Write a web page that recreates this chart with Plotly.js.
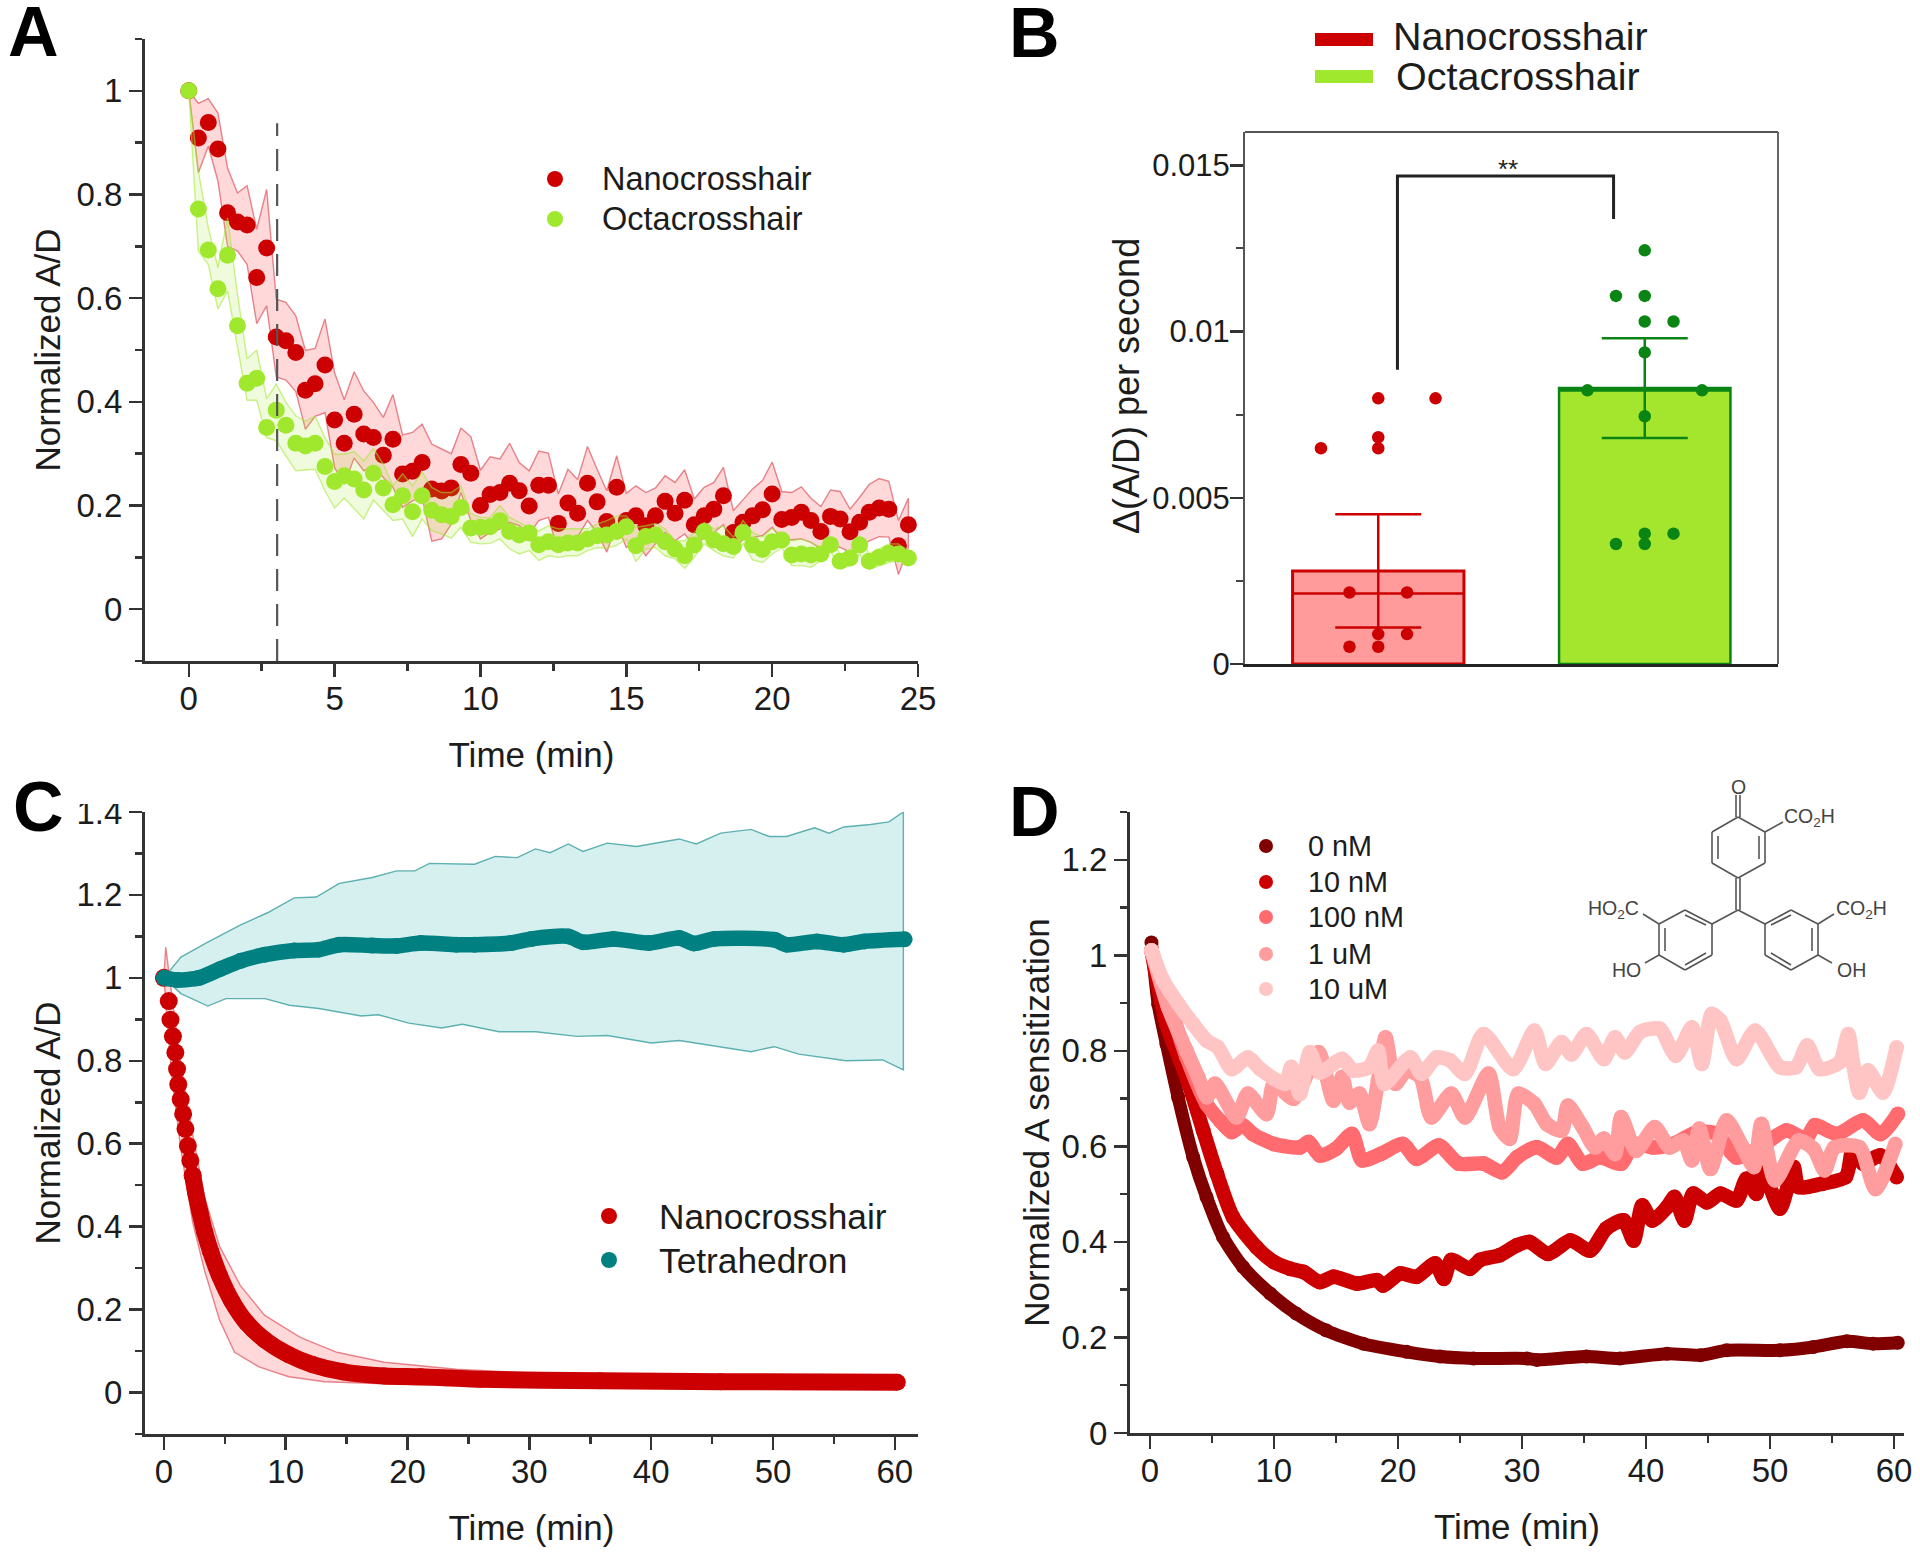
<!DOCTYPE html>
<html>
<head>
<meta charset="utf-8">
<script src="https://cdn.plot.ly/plotly-3.0.1.min.js"></script>
<style>html,body{margin:0;padding:0;background:#fff}</style>
</head>
<body>
<div id="plot" style="width:1920px;height:1556px"></div>
<script>
// panel A
const tA=[0,0.33,0.67,1,1.33,1.67,2,2.33,2.67,3,3.33,3.67,4,4.33,4.67,5,5.33,5.67,6,6.33,6.67,7,7.33,7.67,8,8.33,8.67,9,9.33,9.67,10,10.33,10.67,11,11.33,11.67,12,12.33,12.67,13,13.33,13.67,14,14.33,14.67,15,15.33,15.67,16,16.33,16.67,17,17.33,17.67,18,18.33,18.67,19,19.33,19.67,20,20.33,20.67,21,21.33,21.67,22,22.33,22.67,23,23.33,23.67,24,24.33,24.67];
const nanoA=[1,.909,.939,.888,.765,.747,.741,.640,.697,.525,.518,.495,.4225,.435,.471,.365,.320,.376,.338,.331,.297,.328,.261,.266,.283,.232,.228,.234,.279,.262,.2,.221,.225,.243,.2285,.199,.239,.239,.1655,.205,.185,.243,.207,.169,.235,.171,.18,.161,.18,.208,.185,.21,.163,.18,.193,.219,.148,.1675,.18,.192,.222,.173,.177,.187,.171,.15,.179,.174,.1495,.1675,.187,.195,.193,.1225,.163];
const nanoAUp=[1,.976,.985,.957,.851,.803,.817,.733,.81,.598,.592,.566,.499,.503,.56,.456,.404,.458,.421,.399,.37,.414,.336,.341,.357,.3185,.309,.3,.349,.333,.268,.294,.29,.32,.283,.267,.305,.301,.222,.27,.25,.314,.27,.2285,.296,.2235,.238,.225,.234,.2575,.2445,.269,.2125,.235,.2445,.2735,.19,.211,.232,.248,.284,.227,.225,.236,.214,.198,.23,.227,.193,.216,.241,.252,.2465,.171,.214];
const nanoALo=[1,.842,.893,.826,.7,.691,.665,.551,.585,.448,.442,.42,.347,.372,.379,.273,.241,.2915,.267,.277,.254,.235,.196,.209,.216,.131,.1355,.164,.225,.171,.1355,.148,.1545,.1675,.161,.145,.171,.177,.11,.132,.1395,.171,.148,.11,.165,.119,.132,.103,.126,.148,.132,.145,.1225,.138,.148,.163,.115,.135,.138,.142,.158,.134,.134,.1355,.129,.116,.126,.119,.11,.119,.132,.14,.139,.067,.119];
const octaA=[1,.772,.693,.618,.683,.547,.436,.4455,.3505,.384,.355,.32,.315,.32,.2754,.2465,.2574,.251,.23,.262,.2336,.2015,.219,.188,.219,.191,.182,.179,.196,.1566,.158,.159,.1707,.15,.143,.147,.1245,.13,.1245,.1277,.1277,.1354,.1418,.143,.15,.159,.1225,.14,.143,.13,.116,.103,.124,.15,.1335,.126,.121,.148,.124,.115,.13,.1335,.1046,.1065,.1046,.1065,.1245,.0923,.0988,.124,.0923,.1,.1077,.1065,.0988];
const octaAUp=[1,.845,.736,.659,.755,.608,.483,.5,.406,.434,.399,.373,.363,.372,.331,.299,.299,.304,.286,.31,.28,.238,.261,.238,.264,.235,.225,.225,.238,.184,.177,.177,.2,.177,.1675,.158,.151,.161,.155,.155,.155,.155,.164,.171,.18,.18,.158,.161,.1655,.155,.132,.132,.148,.1675,.155,.161,.139,.171,.148,.139,.155,.145,.132,.1355,.129,.119,.139,.106,.113,.142,.106,.116,.126,.126,.113];
const octaALo=[1,.691,.665,.579,.614,.505,.403,.403,.331,.325,.296,.267,.268,.27,.2285,.195,.2145,.193,.174,.2105,.19,.171,.174,.14,.174,.1515,.145,.137,.158,.129,.126,.127,.1355,.116,.1065,.113,.094,.103,.1,.103,.103,.113,.119,.118,.123,.1355,.092,.116,.119,.103,.097,.079,.1,.126,.113,.103,.099,.126,.095,.09,.106,.119,.084,.084,.081,.094,.112,.079,.084,.106,.077,.084,.09,.094,.087];
const markerLineA=[3.03,3.03], markerLineAY=[-0.1,.9376];

// panel B
const barNames=["Nanocrosshair","Octacrosshair"];
const barMeans=[.0028,.0083];
const barUpper=[.0017,.0015];
const barLower=[.0017,.0015];
const barMid=[.00212,.00825];
const nanoBx=[-.215,0,0,0,.215,-.108,.108,-.108,0,0,.108];
const nanoBy=[.00649,.00799,.00682,.00649,.00799,.00215,.00215,.00052,.00052,.0009,.0009];
const octaBx=[0,-.108,0,0,.108,0,-.215,.215,0,0,.108,-.108,0];
const octaBy=[.01244,.01107,.01107,.0103,.0103,.00937,.00823,.00823,.00745,.00392,.00392,.00361,.00361];
const bracketX=[.072,.072,.883,.883];
const bracketY=[.00885,.01468,.01468,.01338];

// panel C
const tetraTx=[0,1.1,2.9,4.6,6.3,8.3,10.7,12.7,14.4,17.1,19.1,21.1,24,25.5,28.5,30.2,33.2,34.4,36.9,39.8,42.3,43.5,45.2,50.1,51.1,53.6,55.8,57.5,60.8];
const tetraC=[1,.995,1,1.021,1.041,1.056,1.066,1.068,1.08,1.078,1.077,1.084,1.08,1.08,1.084,1.094,1.1,1.086,1.094,1.084,1.096,1.083,1.094,1.092,1.08,1.088,1.08,1.088,1.093];
const tetraUpT=[0,1.4,3.6,6.3,8.5,10.7,12.5,14.4,17.1,19.1,20.6,21.8,25.5,27.2,29,30.5,31.7,33.2,34.4,36.4,38.8,42.3,43.7,45.7,48.2,49.7,51.1,53.4,54.6,55.8,58,59.5,60.7];
const tetraUp=[1,1.05,1.086,1.128,1.157,1.193,1.195,1.228,1.242,1.258,1.258,1.276,1.274,1.293,1.29,1.311,1.302,1.323,1.305,1.325,1.317,1.335,1.323,1.349,1.358,1.341,1.341,1.362,1.349,1.364,1.37,1.376,1.4];
const tetraLoT=[0,1.4,3.6,5.1,8.3,10.3,12.7,16.2,17.6,20.1,22.8,24.5,27.5,30.5,33.9,36.4,40,42.3,44.7,48.2,50.1,52.1,56,59,60.7];
const tetraLo=[1,.962,.932,.95,.95,.934,.926,.908,.911,.891,.879,.888,.87,.87,.859,.861,.843,.849,.837,.822,.834,.816,.8,.802,.778];
const nanoCt=[0,.4,.54,.74,.94,1.08,1.18,1.38,1.58,1.77,1.97,2.17,2.36,2.61,2.96,3.35,3.84,4.58,5.57,6.8,8.28,10.25,12.2,14.7,18.1,21.1,26,35.8,45.7,60.2];
const nanoC=[1,.944,.899,.859,.82,.78,.743,.707,.672,.636,.595,.559,.524,.482,.435,.387,.34,.281,.221,.168,.127,.091,.0675,.05,.04,.038,.032,.0284,.026,.025];
const nanoCUpT=[0,.15,1.38,2.36,3.35,4.58,6.3,8.28,11.2,14.2,18.1,24,30.9,40.7,60.2];
const nanoCUp=[1,1.074,.79,.624,.47,.352,.257,.186,.133,.097,.073,.056,.046,.041,.035];
const nanoCLoT=[0,.64,1.38,2.36,3.35,4.58,5.8,7.8,10.25,13.2,21.1,30.9,60.2];
const nanoCLo=[1,.766,.589,.411,.293,.174,.097,.062,.038,.026,.018,.014,.014];

// panel D
const d0t=[.13,.67,1.34,2.28,3.5,4.57,5.9,7.5,9.7,11.8,14.2,17.2,20.7,23.4,26.1,30.4,31.2,35.2,37.9,41.7,44.4,46.5,50.8,53.5,56.2,58.3,60.3];
const d0=[1.027,.898,.814,.703,.577,.494,.41,.348,.292,.25,.215,.187,.17,.16,.156,.156,.153,.16,.156,.166,.163,.173,.173,.18,.192,.187,.189];
const d10nt=[.13,1.34,2.96,4.3,5.4,6.7,8.6,10,11.3,12.4,13.7,14.8,16.7,18.3,18.8,20.2,21.5,23,23.7,24.3,25.8,26.6,28.2,29.6,30.6,32.1,33.9,35.5,36.8,38.2,39,39.7,40.5,41.7,42.3,43.1,43.8,44.9,46,47.3,48.1,48.9,49.3,50.8,51.9,52.3,54.2,56.1,56.7,57.5,58.9,60.2];
const d10n=[1.01,.856,.745,.633,.543,.452,.389,.358,.344,.337,.316,.327,.313,.32,.309,.334,.327,.355,.323,.362,.344,.362,.372,.393,.4,.375,.403,.382,.428,.445,.403,.476,.445,.473,.494,.445,.501,.483,.501,.487,.532,.501,.557,.47,.557,.515,.522,.536,.598,.564,.581,.536];
const d100nt=[.13,1.48,2.96,4.57,5.65,6.6,7.5,8.3,10,12.1,12.8,13.7,15,16.3,17.1,18.6,20.4,21.5,23.3,24.9,26.9,28.4,29.6,31.2,32.8,33.7,34.9,36.3,38,39,40.6,42.2,44.1,45.7,47.3,49.2,51.3,52.9,53.6,55.4,57.5,58.9,60.3];
const d100n=[1.01,.905,.787,.689,.654,.63,.644,.626,.605,.598,.609,.581,.595,.626,.571,.584,.605,.574,.602,.564,.564,.546,.577,.598,.577,.605,.564,.577,.564,.605,.598,.605,.63,.626,.577,.598,.633,.616,.644,.626,.654,.626,.668];
const d1ut=[.13,1.48,2.96,3.9,4.6,5.25,7,7.9,9.4,10,11.6,13.6,14.8,15.5,16.1,16.9,17.7,18.4,19,19.8,20.7,21.8,22.7,24.3,25.4,27.3,28.2,29,29.7,31,32,33.2,33.7,34.9,35.9,36.6,37.5,38,39.2,40.7,41.9,43,43.7,44.3,45.2,46.5,47.8,48.7,49.3,50.4,52.3,53.5,54.4,55.2,57.2,58.5,60.1];
const d1u=[1.01,.891,.8,.745,.703,.731,.661,.71,.668,.731,.7,.797,.696,.745,.692,.71,.647,.738,.828,.731,.759,.745,.661,.71,.661,.752,.64,.616,.71,.689,.647,.633,.685,.64,.598,.616,.584,.661,.591,.64,.598,.612,.571,.637,.553,.654,.598,.557,.647,.529,.612,.595,.55,.598,.598,.511,.605];
const d10ut=[.13,1.08,2.3,3.5,4.6,5.5,6.6,7.9,8.9,10.9,11.4,12.1,12.9,13.7,15.5,16.4,17.7,18.4,18.9,21,21.9,23.1,24.2,25.4,26.9,29.3,31,31.9,33.2,34,35.2,36.6,37.5,38.3,39.5,41.1,42.4,43.7,44.5,45.3,46,47.3,48.8,50.8,52.1,53,54,55.6,56.3,56.7,57.2,57.9,59.1,60.2];
const d10u=[1.01,.947,.898,.856,.821,.807,.762,.786,.762,.731,.766,.71,.797,.755,.783,.759,.766,.8,.731,.786,.752,.786,.78,.752,.835,.762,.842,.773,.818,.793,.835,.783,.828,.797,.839,.846,.79,.849,.773,.877,.863,.783,.842,.766,.766,.811,.762,.776,.835,.773,.713,.759,.713,.807];
const doseNames=["0 nM","10 nM","100 nM","1 uM","10 uM"];
const doseColors=["#800000","#cc0000","#ff6b6e","#ff9c9e","#ffc5c5"];

const RED="#cc0000", LIME="#a0e82d", TEAL="#008080", DARKGREEN="#0a8514";
const FONT="Liberation Sans", INK="#1c1c1c";
const W=1920, H=1556;

function dx(a,b){return [a/W,b/W]}
function dy(top,bot){return [1-bot/H,1-top/H]}
function axis(opts){
  return Object.assign({showgrid:false,zeroline:false,showline:true,linecolor:"#333",linewidth:3,
    ticks:"outside",ticklen:13,tickwidth:2.5,tickcolor:"#333",
    tickfont:{family:FONT,size:33,color:INK}},opts);
}
function title(text,standoff,size){
  return {text:text,standoff:standoff,font:{family:FONT,size:size||35,color:INK}};
}
function band(x,up,xLo,lo,fill,line,xa,ya){
  return {x:x.concat(xLo.slice().reverse()),y:up.concat(lo.slice().reverse()),mode:"lines",fill:"toself",
    fillcolor:fill,line:{color:line,width:1.4},hoverinfo:"skip",xaxis:xa,yaxis:ya,showlegend:false};
}
function dots(x,y,color,size,xa,ya,lw){
  return {x:x,y:y,mode:lw?"lines+markers":"markers",marker:{color:color,size:size},
    line:lw?{color:color,width:lw,shape:"spline",smoothing:.7}:undefined,xaxis:xa,yaxis:ya,showlegend:false,cliponaxis:false};
}

let traces=[
  band(tA,nanoAUp,tA,nanoALo,"rgba(255,60,70,0.2)","rgba(215,60,70,0.6)","x","y"),
  dots(tA,nanoA,RED,17,"x","y"),
  band(tA,octaAUp,tA,octaALo,"rgba(160,232,45,0.16)","rgba(160,232,45,0.55)","x","y"),
  dots(tA,octaA,LIME,17,"x","y"),

  {x:[0],y:[barMeans[0]],type:"bar",width:.643,marker:{color:"#ff9b9b",line:{color:RED,width:3}},
    error_y:{type:"data",array:[barUpper[0]],arrayminus:[barLower[0]],color:RED,thickness:2.5,width:43},
    xaxis:"x2",yaxis:"y2",showlegend:false,name:barNames[0]},
  {x:[1],y:[barMeans[1]],type:"bar",width:.643,marker:{color:"#a4e62d",line:{color:DARKGREEN,width:2.5}},
    error_y:{type:"data",array:[barUpper[1]],arrayminus:[barLower[1]],color:DARKGREEN,thickness:2.5,width:43},
    xaxis:"x2",yaxis:"y2",showlegend:false,name:barNames[1]},
  {x:[-.32,.32],y:[barMid[0],barMid[0]],mode:"lines",line:{color:RED,width:2.5},xaxis:"x2",yaxis:"y2",showlegend:false},
  {x:[.68,1.32],y:[barMid[1],barMid[1]],mode:"lines",line:{color:DARKGREEN,width:4},xaxis:"x2",yaxis:"y2",showlegend:false},
  dots(nanoBx,nanoBy,RED,12.5,"x2","y2"),
  dots(octaBx.map(v=>v+1),octaBy,DARKGREEN,12.5,"x2","y2"),
  {x:bracketX,y:bracketY,mode:"lines",line:{color:"#222",width:3},xaxis:"x2",yaxis:"y2",showlegend:false},

  band(tetraUpT,tetraUp,tetraLoT,tetraLo,"rgba(0,160,160,0.16)","rgba(0,128,128,0.6)","x3","y3"),
  band(nanoCUpT,nanoCUp,nanoCLoT,nanoCLo,"rgba(255,60,70,0.2)","rgba(215,60,70,0.6)","x3","y3"),
  // first drops are separate dots in the picture, after that they merge
  dots(nanoCt.slice(0,13),nanoC.slice(0,13),RED,18,"x3","y3"),
  dots(nanoCt.slice(12),nanoC.slice(12),RED,17,"x3","y3",17),
  dots(tetraTx,tetraC,TEAL,16,"x3","y3",15.5),

  dots(d0t,d0,doseColors[0],14,"x4","y4",13),
  dots(d10nt,d10n,doseColors[1],15,"x4","y4",14.5),
  dots(d100nt,d100n,doseColors[2],15,"x4","y4",14.5),
  dots(d1ut,d1u,doseColors[3],15,"x4","y4",14.5),
  dots(d10ut,d10u,doseColors[4],15,"x4","y4",14.5)
];

// everything hand placed below is in picture pixels
function lab(text,x,y,size,opt){
  return Object.assign({text:text,xref:"paper",yref:"paper",x:x/W,y:1-y/H,showarrow:false,xanchor:"left",yanchor:"middle",
    font:{family:FONT,size:size,color:INK}},opt||{});
}
function keyDot(x,y,r,color){
  return {type:"circle",xref:"paper",yref:"paper",xsizemode:"pixel",ysizemode:"pixel",xanchor:x/W,yanchor:1-y/H,
    x0:-r,x1:r,y0:-r,y1:r,fillcolor:color,line:{width:0}};
}
function seg(a,b,c,d,w){
  return {type:"line",xref:"paper",yref:"paper",x0:a/W,x1:c/W,y0:1-b/H,y1:1-d/H,line:{color:"#555",width:w||1.6}};
}
const molFont={family:FONT,size:19.5,color:"#444"};
const panelFont={family:FONT,size:70,color:"#000",weight:700};

let annotations=[
  lab("A",33,32,70,{xanchor:"center",font:panelFont}),
  lab("B",1034,33,70,{xanchor:"center",font:panelFont}),
  lab("C",38,807,70,{xanchor:"center",font:panelFont}),
  lab("D",1034,812,70,{xanchor:"center",font:panelFont}),
  lab(barNames[0],600,179,32.5),
  lab(barNames[1],600,219,32.5),
  lab(barNames[0],1391,36,39.5),
  lab(barNames[1],1394,76,39.5),
  lab("Nanocrosshair",657,1216,35.3),
  lab("Tetrahedron",657,1260,35.3),
  lab("Δ(A/D) per second",1127,386,36,{xanchor:"center",textangle:-90}),
  {text:"**",xref:"x2",yref:"y2",x:.485,y:.0149,showarrow:false,font:{family:FONT,size:26,color:"#222"}},
  lab("O",1738,787,19.5,{xanchor:"center",font:molFont}),
  lab("CO<sub>2</sub>H",1782,817,19.5,{font:molFont}),
  lab("HO<sub>2</sub>C",1586,910,19.5,{font:molFont}),
  lab("CO<sub>2</sub>H",1834,910,19.5,{font:molFont}),
  lab("HO",1610,970,19.5,{font:molFont}),
  lab("OH",1835,970,19.5,{font:molFont})
];
doseNames.forEach((n,i)=>annotations.push(lab(n,1306,[846,882,917,954,989][i],28.8)));

let shapes=[
  {type:"line",xref:"x",yref:"y",x0:markerLineA[0],x1:markerLineA[1],y0:markerLineAY[0],y1:markerLineAY[1],
    line:{color:"#555",width:2.2,dash:"22px,13px"}},
  keyDot(555,179,8,RED),keyDot(555,219,8,LIME),
  keyDot(609,1216,8,RED),keyDot(609,1260,8,TEAL),
  {type:"rect",xref:"paper",yref:"paper",x0:1315/W,x1:1373/W,y0:1-46/H,y1:1-33/H,fillcolor:RED,line:{width:0}},
  {type:"rect",xref:"paper",yref:"paper",x0:1315/W,x1:1373/W,y0:1-83/H,y1:1-70/H,fillcolor:LIME,line:{width:0}},
  {type:"rect",xref:"paper",yref:"paper",x0:70/W,x1:132/W,y0:1-804/H,y1:1-770/H,fillcolor:"#fff",line:{width:0},layer:"above"}
];
doseColors.forEach((c,i)=>shapes.push(keyDot(1266,[846,882,917,954,989][i],7,c)));

// phthalein structure in the corner of D
const ringTop=[[1738,817],[1765,832],[1765,863],[1738,878],[1712,863],[1712,832]];
const ringLeft=[[1712,924],[1685,910],[1659,924],[1659,955],[1685,970],[1712,955]];
const ringRight=[[1765,924],[1791,910],[1818,924],[1818,955],[1791,970],[1765,955]];
[ringTop,ringLeft,ringRight].forEach(r=>{
  r.forEach((p,i)=>{let q=r[(i+1)%6];shapes.push(seg(p[0],p[1],q[0],q[1]));});
});
shapes.push(
  seg(1736,795,1736,817),seg(1740,795,1740,817),
  seg(1765,832,1783,822),
  seg(1759,836,1759,859),seg(1718,836,1718,859),
  seg(1736,878,1736,910),seg(1740,878,1740,910),
  seg(1738,910,1712,924),seg(1738,910,1765,924),
  seg(1659,924,1643,914),seg(1818,924,1834,914),
  seg(1659,955,1645,963),seg(1818,955,1832,963),
  seg(1706,925,1685,915),seg(1665,928,1665,951),seg(1685,965,1706,953),
  seg(1771,925,1791,915),seg(1812,928,1812,951),seg(1791,965,1771,953)
);

let layout={
  width:W,height:H,autosize:false,showlegend:false,
  margin:{l:0,r:0,t:0,b:0,pad:0},
  paper_bgcolor:"#fff",plot_bgcolor:"rgba(0,0,0,0)",
  bargap:0,
  xaxis:axis({domain:dx(145,918),range:[-1.5,25],anchor:"y",tickvals:[0,5,10,15,20,25],ticklabelstandoff:-7,
    minor:{dtick:2.5,ticks:"outside",ticklen:7,tickwidth:2.5,tickcolor:"#333"},title:title("Time (min)",27)}),
  yaxis:axis({domain:dy(39,661),range:[-.1,1.1],anchor:"x",tickvals:[0,.2,.4,.6,.8,1],ticktext:["0","0.2","0.4","0.6","0.8","1"],
    minor:{dtick:.1,tick0:-.1,ticks:"outside",ticklen:7,tickwidth:2.5,tickcolor:"#333"},title:title("Normalized A/D",6)}),

  xaxis2:{domain:dx(1245,1778),range:[-.5,1.5],anchor:"y2",showgrid:false,zeroline:false,showticklabels:false,ticks:"",
    showline:true,linecolor:"#222",linewidth:3,mirror:false},
  yaxis2:axis({domain:dy(132,664),range:[0,.016],anchor:"x2",tickvals:[0,.005,.01,.015],ticktext:["0","0.005","0.01","0.015"],
    linewidth:2,linecolor:"#555",ticklabelstandoff:-6,tickfont:{family:FONT,size:31,color:INK},
    minor:{dtick:.0025,ticks:"outside",ticklen:7,tickwidth:2,tickcolor:"#444"}}),

  xaxis3:axis({domain:dx(145,918),range:[-1.55,61.9],anchor:"y3",tickvals:[0,10,20,30,40,50,60],ticklabelstandoff:-7,
    minor:{dtick:5,ticks:"outside",ticklen:7,tickwidth:2.5,tickcolor:"#333"},title:title("Time (min)",27)}),
  yaxis3:axis({domain:dy(812,1434),range:[-.1,1.4],anchor:"x3",tickvals:[0,.2,.4,.6,.8,1,1.2,1.4],ticktext:["0","0.2","0.4","0.6","0.8","1","1.2","1.4"],
    minor:{dtick:.1,tick0:-.1,ticks:"outside",ticklen:7,tickwidth:2.5,tickcolor:"#333"},title:title("Normalized A/D",6)}),

  xaxis4:axis({domain:dx(1130,1904),range:[-1.6,60.8],anchor:"y4",tickvals:[0,10,20,30,40,50,60],ticklabelstandoff:-7,
    minor:{dtick:5,ticks:"outside",ticklen:7,tickwidth:2.5,tickcolor:"#333"},title:title("Time (min)",27)}),
  yaxis4:axis({domain:dy(812,1433),range:[0,1.3],anchor:"x4",tickvals:[0,.2,.4,.6,.8,1,1.2],ticktext:["0","0.2","0.4","0.6","0.8","1","1.2"],
    minor:{dtick:.1,ticks:"outside",ticklen:7,tickwidth:2.5,tickcolor:"#333"},title:title("Normalized A sensitization",2)}),

  annotations:annotations,shapes:shapes
};
// thin frame on top and right of B
layout.shapes.push(
  {type:"line",xref:"paper",yref:"paper",x0:1245/W,x1:1778/W,y0:1-132/H,y1:1-132/H,line:{color:"#555",width:1.8}},
  {type:"line",xref:"paper",yref:"paper",x0:1778/W,x1:1778/W,y0:1-132/H,y1:1-664/H,line:{color:"#555",width:1.8}}
);

Plotly.newPlot("plot",traces,layout,{displayModeBar:false,staticPlot:true});
</script>
</body>
</html>
